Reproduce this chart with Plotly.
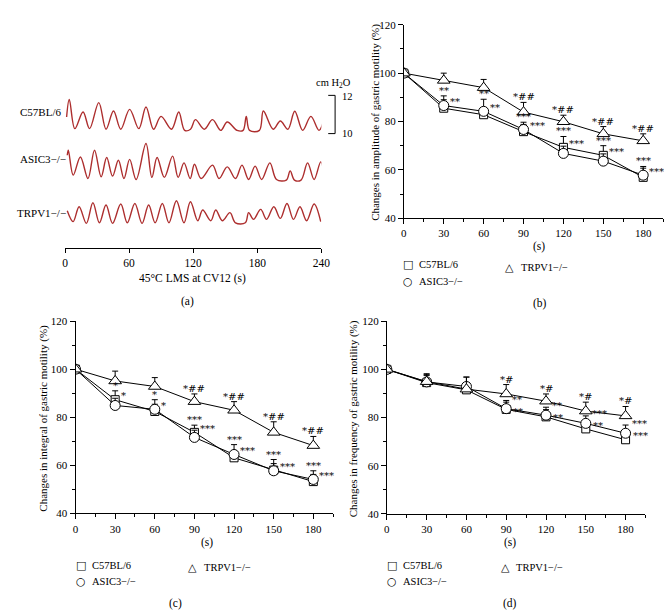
import plotly.graph_objects as go

W, H = 672, 612
SERIF = "Liberation Serif, Times New Roman, serif"

# ---------- panel (a): motility traces (cm H2O) ----------
c57_t = [1.5, 4.0, 9.2, 16.9, 23.0, 31.6, 38.4, 45.4, 52.2, 60.5, 69.1, 75.8, 82.9, 89.9,
         99.7, 106.5, 112.0, 117.5, 122.1, 130.4, 138.1, 145.8, 151.9, 161.1, 166.7, 169.7,
         172.8, 182.0, 185.7, 194.9, 201.6, 208.7, 215.1, 222.5, 230.2, 237.8, 243.0]
c57_p = [10.87, 11.79, 10.26, 11.13, 10.26, 11.62, 10.23, 11.18, 10.23, 11.27, 10.26, 11.39,
         10.23, 10.90, 10.23, 11.13, 10.17, 10.23, 10.73, 10.23, 10.73, 10.17, 10.61, 10.17,
         10.17, 10.90, 10.17, 10.17, 11.18, 10.23, 10.66, 10.23, 11.17, 10.17, 10.90, 10.17, 10.87]

asic_t = [2.1, 3.1, 7.7, 14.4, 21.5, 27.6, 33.8, 39.0, 44.5, 50.0, 55.2, 60.5, 66.6, 75.8,
          81.3, 86.2, 93.0, 100.7, 105.9, 111.4, 117.2, 121.2, 127.4, 138.1, 144.2, 151.9,
          159.6, 165.7, 171.9, 178.0, 184.1, 191.8, 198.0, 207.2, 210.8, 214.8, 221.0, 227.1,
          233.2, 239.4, 242.5]
asic_p = [11.39, 11.65, 10.35, 11.30, 10.17, 11.65, 10.26, 11.27, 10.30, 11.13, 10.17, 11.17,
          10.12, 12.00, 10.23, 11.27, 10.23, 11.34, 10.23, 10.99, 10.17, 10.92, 10.17, 10.87,
          10.17, 10.78, 10.17, 10.87, 10.12, 10.82, 10.12, 10.99, 10.12, 10.09, 10.57, 10.09,
          10.09, 10.99, 10.12, 11.04, 10.47]

trpv_t = [2.1, 7.6, 13.2, 20.0, 26.1, 32.2, 38.4, 44.5, 52.2, 58.3, 65.4, 72.1, 78.3, 84.4,
          91.1, 97.3, 104.3, 111.4, 117.4, 124.3, 128.9, 136.5, 141.1, 147.3, 154.4, 159.6,
          168.8, 171.9, 176.5, 183.2, 188.7, 195.5, 201.6, 207.8, 213.9, 220.0, 226.2, 233.2,
          239.4]
trpv_p = [11.53, 10.96, 11.74, 10.87, 11.95, 10.90, 11.83, 10.87, 11.88, 10.90, 11.91, 10.87,
          11.83, 10.90, 11.91, 10.90, 12.05, 10.90, 12.00, 11.01, 11.57, 11.01, 11.57, 11.01,
          11.43, 10.90, 10.90, 11.43, 11.08, 11.60, 11.08, 11.74, 11.13, 11.91, 11.08, 11.74,
          11.01, 11.88, 10.96]

# ---------- panels (b)-(d): % change vs time ----------
times = [0, 30, 60, 90, 120, 150, 180]

amp_c57 = [100, 85.5, 82.8, 75.8, 69.3, 66.0, 56.9]
amp_asic = [100, 86.6, 84.2, 76.7, 66.8, 63.6, 57.8]
amp_trpv = [100, 97.0, 94.0, 83.9, 79.9, 74.9, 72.0]
amp_c57_err = [0, 3.5, 3.0, 3.0, 4.5, 4.0, 3.8]
amp_asic_err = [0, 4.0, 5.0, 3.0, 3.0, 3.0, 3.6]
amp_trpv_err = [0, 3.0, 3.4, 4.0, 2.7, 3.0, 2.9]

int_c57 = [100, 87.3, 82.4, 73.7, 63.1, 58.0, 53.2]
int_asic = [100, 84.9, 83.3, 71.6, 64.5, 57.7, 54.1]
int_trpv = [100, 95.1, 92.8, 86.5, 82.9, 73.7, 68.2]
int_c57_err = [0, 3.7, 3.0, 3.0, 3.0, 4.4, 3.0]
int_asic_err = [0, 3.0, 4.0, 3.0, 4.1, 3.0, 3.6]
int_trpv_err = [0, 4.1, 3.7, 3.2, 3.6, 4.4, 3.8]

frq_c57 = [100, 94.5, 91.5, 83.4, 80.3, 75.3, 70.8]
frq_asic = [100, 94.8, 92.9, 83.7, 81.0, 77.6, 73.5]
frq_trpv = [100, 94.9, 91.8, 89.8, 86.8, 82.7, 80.7]
frq_c57_err = [0, 3.0, 3.0, 3.0, 3.0, 3.0, 3.0]
frq_asic_err = [0, 3.0, 3.9, 3.4, 3.3, 3.1, 3.4]
frq_trpv_err = [0, 3.3, 5.0, 3.9, 3.0, 3.7, 3.9]

# significance marks
amp_sig_trpv = ["", "", "", "*##", "*##", "*##", "*##"]
amp_sig_c57 = ["", "**", "**", "***", "***", "***", "***"]
amp_sig_asic = ["", "**", "**", "***", "***", "***", "***"]

int_sig_trpv = ["", "", "", "*##", "*##", "*##", "*##"]
int_sig_c57 = ["", "*", "*", "***", "***", "***", "***"]
int_sig_asic = ["", "*", "*", "***", "***", "***", "***"]

frq_sig_trpv = ["", "", "", "*#", "*#", "*#", "*#"]
frq_sig_c57 = ["", "", "", "**", "**", "***", "***"]
frq_sig_asic = ["", "", "", "**", "**", "**", "***"]

strains = ["C57BL/6", "ASIC3\u2212/\u2212", "TRPV1\u2212/\u2212"]


def px(x):
    return x / W


def py(y):
    return 1 - y / H


def note(text, x, y, anchor="center", size=11, **kw):
    d = dict(text=text, x=px(x), y=py(y), xref="paper", yref="paper", xanchor=anchor,
             yanchor="middle", showarrow=False, font=dict(family=SERIF, size=size, color="black"))
    d.update(kw)
    return d


fig = go.Figure()
annotations = []
shapes = []

# ---------- panel (a) ----------
trace_off = {"C57BL/6": 0.0, "ASIC3": -2.52, "TRPV1": -5.565}
for name, t, p in [("C57BL/6", c57_t, c57_p), ("ASIC3", asic_t, asic_p), ("TRPV1", trpv_t, trpv_p)]:
    fig.add_trace(go.Scatter(
        x=t, y=[v + trace_off[name] for v in p], mode="lines",
        line=dict(color="#ad2e2e", width=1.4, shape="spline", smoothing=1.0),
        xaxis="x", yaxis="y", hoverinfo="skip"))

annotations.append(note("C57BL/6", 53, 100, "right"))
annotations.append(note("ASIC3\u2212/\u2212", 58, 148, "right"))
annotations.append(note("TRPV1\u2212/\u2212", 58, 203, "right"))

# scale bar
for x0, x1, y0, y1 in [(330, 330, 83, 122), (323, 330, 83, 83), (323, 330, 122, 122)]:
    shapes.append(dict(type="line", xref="paper", yref="paper", x0=px(x0), x1=px(x1),
                       y0=py(y0), y1=py(y1), line=dict(color="black", width=1)))
annotations.append(note("cm H<sub>2</sub>O", 328, 71, size=10.5))
annotations.append(note("12", 335, 84, "left", size=10.5))
annotations.append(note("10", 335, 122, "left", size=10.5))

annotations.append(note("45\u00b0C LMS at CV12 (s)", 185, 270, size=11.5))
annotations.append(note("(a)", 180, 293, size=11.5))

# ---------- panels (b)-(d) ----------
panels = [
    dict(n=2, data=(amp_c57, amp_asic, amp_trpv), err=(amp_c57_err, amp_asic_err, amp_trpv_err),
         sig=(amp_sig_c57, amp_sig_asic, amp_sig_trpv), two_right=False,
         ytitle="Changes in amplitude of gastric motility (%)",
         xd=(400, 664), yd=(11, 208.3), ytx=371, stx=538, sty=237, lab="(b)", labx=539, laby=295,
         leg=(404, 255, 273, 508, 259)),
    dict(n=3, data=(int_c57, int_asic, int_trpv), err=(int_c57_err, int_asic_err, int_trpv_err),
         sig=(int_sig_c57, int_sig_asic, int_sig_trpv), two_right=False,
         ytitle="Changes in integral of gastric motility (%)",
         xd=(65.7, 328), yd=(313.3, 509.3), ytx=33, stx=200, sty=539, lab="(c)", labx=167, laby=601,
         leg=(71, 563, 579, 185, 565)),
    dict(n=4, data=(frq_c57, frq_asic, frq_trpv), err=(frq_c57_err, frq_asic_err, frq_trpv_err),
         sig=(frq_sig_c57, frq_sig_asic, frq_sig_trpv), two_right=True,
         ytitle="Changes in frequency of gastric motility (%)",
         xd=(382.7, 646), yd=(313.3, 510), ytx=349, stx=508, sty=539, lab="(d)", labx=508, laby=601,
         leg=(388, 563, 579, 503, 565)),
]

symbols = ["square", "circle", "triangle-up"]
sizes = [8, 10, 11]
axis_font = dict(family=SERIF, size=11, color="black")
sfont = dict(family="DejaVu Serif", size=10, color="#000000")

layout_axes = {}
for pn in panels:
    n = pn["n"]
    xa, ya = f"x{n}", f"y{n}"
    for i in range(3):
        vals, errs = pn["data"][i], pn["err"][i]
        fig.add_trace(go.Scatter(
            x=times, y=vals, mode="lines+markers", xaxis=xa, yaxis=ya, name=strains[i],
            line=dict(color="black", width=1),
            marker=dict(symbol=symbols[i], size=sizes[i], color="white",
                        line=dict(color="black", width=1)),
            error_y=dict(type="data", symmetric=False, array=errs, arrayminus=[0] * len(errs),
                         color="black", thickness=1, width=3),
            hoverinfo="skip"))

    c57, asic, trpv = pn["data"]
    ec57, easic, etrpv = pn["err"]
    s_c57, s_asic, s_trpv = pn["sig"]
    for k, t in enumerate(times):
        if s_trpv[k]:
            annotations.append(dict(text=s_trpv[k], x=t, y=trpv[k] + etrpv[k], xref=xa, yref=ya,
                                    xanchor="center", yanchor="bottom", yshift=-2,
                                    showarrow=False, font=sfont))
        top = max(c57[k] + ec57[k], asic[k] + easic[k])
        lvl = max(c57[k], asic[k])
        if pn["two_right"]:
            if s_c57[k]:
                annotations.append(dict(text=s_c57[k], x=t, y=lvl, xref=xa, yref=ya,
                                        xanchor="left", yanchor="bottom", xshift=4, yshift=2,
                                        showarrow=False, font=sfont))
            if s_asic[k]:
                annotations.append(dict(text=s_asic[k], x=t, y=lvl, xref=xa, yref=ya,
                                        xanchor="left", yanchor="top", xshift=5, yshift=5,
                                        showarrow=False, font=sfont))
        else:
            if s_c57[k]:
                annotations.append(dict(text=s_c57[k], x=t, y=top, xref=xa, yref=ya,
                                        xanchor="center", yanchor="bottom", yshift=-2,
                                        showarrow=False, font=sfont))
            if s_asic[k]:
                annotations.append(dict(text=s_asic[k], x=t, y=lvl, xref=xa, yref=ya,
                                        xanchor="left", yanchor="middle", xshift=4, yshift=4,
                                        showarrow=False, font=sfont))

    x0, x1 = pn["xd"]
    y0, y1 = pn["yd"]
    layout_axes[f"xaxis{n}"] = dict(
        domain=[px(x0), px(x1)], range=[0, 195], anchor=ya, showline=True, linecolor="black",
        linewidth=1, ticks="outside", ticklen=5, tickcolor="black", tickmode="linear", tick0=0,
        dtick=30, tickfont=axis_font, showgrid=False, zeroline=False,
        minor=dict(ticks="outside", ticklen=3, tickcolor="black", dtick=15, tick0=0, showgrid=False))
    layout_axes[f"yaxis{n}"] = dict(
        domain=[py(y1), py(y0)], range=[40, 120], anchor=xa, showline=True, linecolor="black",
        linewidth=1, ticks="outside", ticklen=5, tickcolor="black", tickmode="linear", tick0=40,
        dtick=20, tickfont=axis_font, showgrid=False, zeroline=False,
        minor=dict(ticks="outside", ticklen=3, tickcolor="black", dtick=10, tick0=40, showgrid=False))

    annotations.append(note(pn["ytitle"], pn["ytx"], (y0 + y1) / 2 + 1, size=11, textangle=-90))
    annotations.append(note("(s)", pn["stx"], pn["sty"], size=11.5))
    annotations.append(note(pn["lab"], pn["labx"], pn["laby"], size=11.5))

    lx, ly1, ly2, tx, ty = pn["leg"]
    for glyph, gx, gy, txt in [("\u25a1", lx, ly1, strains[0]), ("\u25cb", lx, ly2, strains[1]),
                               ("\u25b3", tx, ty, strains[2])]:
        annotations.append(dict(text=glyph, x=px(gx), y=py(gy), xref="paper", yref="paper",
                                xanchor="center", yanchor="middle", showarrow=False,
                                font=dict(family="DejaVu Sans", size=11, color="black")))
        annotations.append(note(txt, gx + 9, gy, "left", size=10.5))

fig.update_layout(
    width=W, height=H, margin=dict(l=0, r=0, t=0, b=0),
    paper_bgcolor="white", plot_bgcolor="white", showlegend=False,
    xaxis=dict(domain=[px(55), px(316)], range=[0, 240], anchor="y", showline=True,
               linecolor="black", linewidth=1, ticks="outside", ticklen=4, tickcolor="black",
               tickmode="linear", tick0=0, dtick=60, tickfont=dict(family=SERIF, size=11.5, color="black"),
               showgrid=False, zeroline=False),
    yaxis=dict(domain=[py(239), py(60)], range=[4.0, 13.18], anchor="x", visible=False),
    annotations=annotations, shapes=shapes,
    **layout_axes,
)

fig.write_html("out.html")
